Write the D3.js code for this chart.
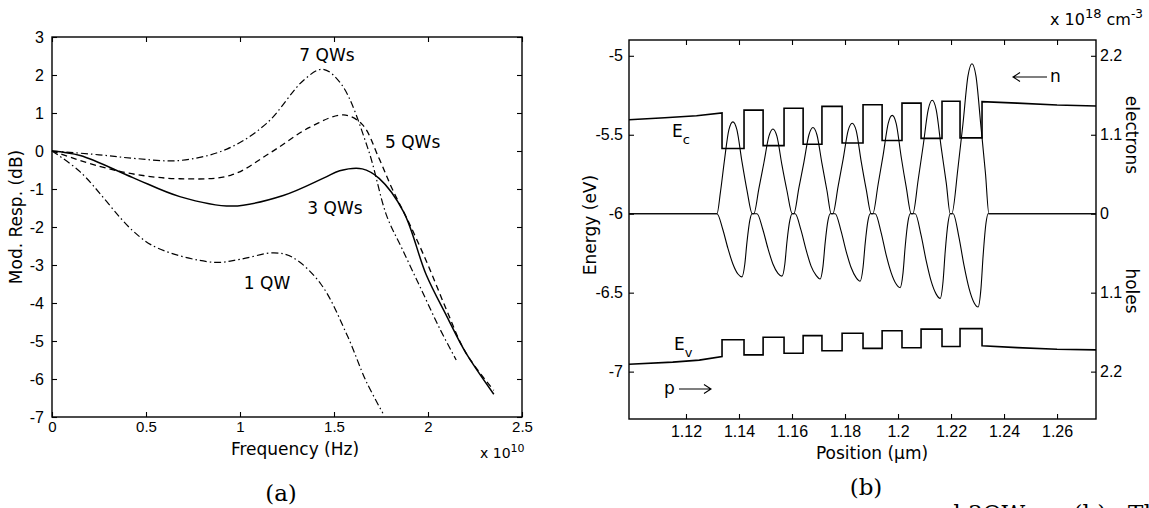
<!DOCTYPE html>
<html>
<head>
<meta charset="utf-8">
<script src="https://cdn.jsdelivr.net/npm/d3@7/dist/d3.min.js"></script>
<style>
  body { margin: 0; background: #fff; }
  svg { display: block; font-family: "DejaVu Sans", sans-serif; }
  .tick text { font-size: 16px; fill: #000; }
  .tick line { stroke: #000; stroke-width: 1.1; }
  .domain { display: none; }
  .lbl { font-size: 17px; fill: #000; }
  .cap { font-family: "DejaVu Serif", serif; font-size: 23px; fill: #000; }
</style>
</head>
<body>
<svg id="chart" width="1149" height="508"></svg>
<script>
// ---- panel (a): modulation response, frequency in units of 1e10 Hz ----
const freqTicks = [0, 0.5, 1, 1.5, 2, 2.5];
const dbTicks = [3, 2, 1, 0, -1, -2, -3, -4, -5, -6, -7];

const qw7 = [[0,0],[0.25,-0.1],[0.45,-0.2],[0.68,-0.25],[0.93,0.05],[1.14,0.72],[1.34,1.87],[1.44,2.15],
  [1.54,1.75],[1.68,0.07],[1.78,-1.7],[1.86,-2.55],[1.96,-3.6],[2.06,-4.65],[2.15,-5.5]];
const qw5 = [[0,0],[0.25,-0.4],[0.45,-0.62],[0.68,-0.73],[0.95,-0.64],[1.16,-0.05],[1.37,0.62],[1.55,0.95],
  [1.65,0.7],[1.74,-0.2],[1.81,-1.0],[1.9,-1.9],[2.0,-3.0],[2.1,-4.2],[2.2,-5.3],[2.35,-6.3]];
const qw3 = [[0,0],[0.15,-0.12],[0.43,-0.7],[0.68,-1.2],[0.96,-1.45],[1.23,-1.17],[1.45,-0.7],[1.53,-0.52],
  [1.65,-0.47],[1.74,-0.72],[1.87,-1.6],[1.99,-3.25],[2.10,-4.35],[2.2,-5.3],[2.35,-6.4]];
const qw1 = [[0,0],[0.15,-0.55],[0.43,-2.1],[0.56,-2.55],[0.86,-2.93],[1.0,-2.85],[1.18,-2.68],[1.28,-2.8],
  [1.43,-3.5],[1.57,-4.85],[1.67,-6.05],[1.76,-6.9]];

// ---- panel (b): band diagram, position in um, energy in eV ----
const posTicks = [1.12, 1.14, 1.16, 1.18, 1.2, 1.22, 1.24, 1.26];
const energyTicks = [-5, -5.5, -6, -6.5, -7];
const densityTicks = [2.2, 1.1, 0, -1.1, -2.2];   // x 1e18 cm^-3, electrons up, holes down

const wellStart = [1.1336, 1.1491, 1.1642, 1.1789, 1.1940, 1.2087, 1.2234];
const wellEnd   = [1.1419, 1.1570, 1.1713, 1.1868, 1.2015, 1.2166, 1.2317];

const ecLeft    = [[1.0985,-5.405],[1.112,-5.392],[1.124,-5.38],[1.1336,-5.362]];
const ecWell    = [-5.587, -5.569, -5.560, -5.552, -5.536, -5.523, -5.520];
const ecBarrier = [-5.344, -5.332, -5.320, -5.310, -5.300, -5.288];
const ecRight   = [[1.2317,-5.29],[1.245,-5.30],[1.26,-5.312],[1.2747,-5.318]];

const evLeft    = [[1.0985,-6.953],[1.115,-6.94],[1.125,-6.927],[1.1336,-6.904]];
const evWell    = [-6.798, -6.782, -6.772, -6.757, -6.741, -6.731, -6.728];
const evBarrier = [-6.894, -6.884, -6.868, -6.853, -6.849, -6.841];
const evRight   = [[1.2317,-6.836],[1.245,-6.848],[1.26,-6.858],[1.2747,-6.862]];

const electrons = [[1.0985,0],
  [1.1317,0],[1.1330,0.30],[1.1345,0.74],[1.1362,1.17],[1.1377,1.28],[1.1392,1.17],[1.1411,0.73],[1.1430,0.33],[1.1450,0],
  [1.1456,0],[1.1475,0.35],[1.1494,0.71],[1.1513,1.08],[1.1528,1.18],[1.1543,1.08],[1.1562,0.68],[1.1581,0.32],[1.1601,0],
  [1.1607,0],[1.1626,0.36],[1.1645,0.72],[1.1664,1.10],[1.1679,1.20],[1.1694,1.10],[1.1713,0.70],[1.1732,0.32],[1.1748,0],
  [1.1754,0],[1.1774,0.38],[1.1793,0.76],[1.1812,1.16],[1.1827,1.26],[1.1842,1.16],[1.1861,0.73],[1.1880,0.34],[1.1899,0],
  [1.1905,0],[1.1925,0.41],[1.1944,0.82],[1.1963,1.26],[1.1978,1.37],[1.1993,1.26],[1.2012,0.79],[1.2031,0.37],[1.2050,0],
  [1.2056,0],[1.2076,0.47],[1.2095,0.95],[1.2114,1.45],[1.2129,1.58],[1.2144,1.45],[1.2163,0.92],[1.2182,0.43],[1.2197,0],
  [1.2203,0],[1.2226,0.63],[1.2245,1.25],[1.2264,1.92],[1.2279,2.09],[1.2294,1.92],[1.2313,1.21],[1.2330,0.56],[1.2343,0],
  [1.2747,0]];

const holes = [[1.0985,0],
  [1.1317,0],[1.1339,-0.22],[1.1358,-0.48],[1.1377,-0.70],[1.1396,-0.84],[1.1411,-0.88],[1.1422,-0.70],[1.1430,-0.40],[1.1441,-0.09],[1.1449,0],
  [1.1468,0],[1.1490,-0.22],[1.1509,-0.48],[1.1528,-0.70],[1.1547,-0.83],[1.1562,-0.87],[1.1573,-0.70],[1.1581,-0.39],[1.1592,-0.09],[1.1600,0],
  [1.1612,0],[1.1634,-0.23],[1.1653,-0.50],[1.1672,-0.73],[1.1691,-0.86],[1.1706,-0.91],[1.1717,-0.73],[1.1725,-0.41],[1.1736,-0.09],[1.1744,0],
  [1.1763,0],[1.1785,-0.24],[1.1804,-0.52],[1.1823,-0.75],[1.1842,-0.89],[1.1857,-0.94],[1.1868,-0.75],[1.1876,-0.42],[1.1887,-0.09],[1.1895,0],
  [1.1914,0],[1.1936,-0.26],[1.1955,-0.57],[1.1974,-0.82],[1.1993,-0.98],[1.2008,-1.03],[1.2019,-0.82],[1.2027,-0.46],[1.2038,-0.10],[1.2046,0],
  [1.2065,0],[1.2087,-0.30],[1.2106,-0.65],[1.2125,-0.94],[1.2144,-1.12],[1.2159,-1.18],[1.2170,-0.94],[1.2178,-0.53],[1.2189,-0.12],[1.2197,0],
  [1.2208,0],[1.2230,-0.33],[1.2249,-0.72],[1.2268,-1.04],[1.2287,-1.24],[1.2302,-1.30],[1.2313,-1.04],[1.2321,-0.59],[1.2332,-0.13],[1.2340,0],
  [1.2747,0]];

const svg = d3.select('#chart');

// step profile of a band edge from the well / barrier lists
const bandPath = (left, well, barrier, right) => {
  const pts = left.slice();
  wellStart.forEach((s, i) => {
    pts.push([s, well[i]], [wellEnd[i], well[i]]);
    if (i < barrier.length) {
      pts.push([wellEnd[i], barrier[i]], [wellStart[i + 1], barrier[i]]);
    }
  });
  return pts.concat(right);
};

const frame = (g, x, y) => {
  g.append('rect')
    .attr('x', x.range()[0]).attr('y', y.range()[1])
    .attr('width', x.range()[1] - x.range()[0])
    .attr('height', y.range()[0] - y.range()[1])
    .attr('fill', 'none').attr('stroke', '#000').attr('stroke-width', 1.4);
};

// ================= panel (a) =================
const xa = d3.scaleLinear().domain([0, 2.5]).range([52, 522]);
const ya = d3.scaleLinear().domain([-7, 3]).range([417, 37]);
const ga = svg.append('g');

ga.append('g').attr('transform', `translate(${xa(0)},0)`)
  .call(d3.axisLeft(ya).tickValues(dbTicks).tickSizeInner(-5).tickSizeOuter(0).tickPadding(8).tickFormat(d => String(d)));
ga.append('g').attr('transform', `translate(${xa(2.5)},0)`)
  .call(d3.axisRight(ya).tickValues(dbTicks).tickSizeInner(-5).tickSizeOuter(0).tickFormat(''));
const bottomA = ga.append('g').attr('transform', `translate(0,${ya(-7)})`)
  .call(d3.axisBottom(xa).tickValues(freqTicks).tickSizeInner(-5).tickSizeOuter(0).tickPadding(4).tickFormat(d => String(d)));
bottomA.selectAll('.tick text').style('font-size', '15px');
ga.append('g').attr('transform', `translate(0,${ya(3)})`)
  .call(d3.axisTop(xa).tickValues(freqTicks).tickSizeInner(-5).tickSizeOuter(0).tickFormat(''));
frame(ga, xa, ya);

const lineA = d3.line().x(d => xa(d[0])).y(d => ya(d[1])).curve(d3.curveCatmullRom.alpha(0.5));
const curvesA = [
  { data: qw7, dash: '7,3,1.5,3', w: 1.2 },
  { data: qw5, dash: '6,4', w: 1.3 },
  { data: qw3, dash: null, w: 1.5 },
  { data: qw1, dash: '7,3,1.5,3', w: 1.2 }
];
ga.selectAll('.resp').data(curvesA).enter().append('path')
  .attr('class', 'resp')
  .attr('d', d => lineA(d.data))
  .attr('fill', 'none').attr('stroke', '#000')
  .attr('stroke-width', d => d.w)
  .attr('stroke-dasharray', d => d.dash);

ga.append('text').attr('class', 'lbl').attr('x', 327).attr('y', 61).attr('text-anchor', 'middle').text('7 QWs');
ga.append('text').attr('class', 'lbl').attr('x', 385).attr('y', 148).text('5 QWs');
ga.append('text').attr('class', 'lbl').attr('x', 335).attr('y', 214).attr('text-anchor', 'middle').text('3 QWs');
ga.append('text').attr('class', 'lbl').attr('x', 267).attr('y', 289).attr('text-anchor', 'middle').text('1 QW');

ga.append('text').attr('class', 'lbl').attr('transform', 'translate(22,217) rotate(-90)')
  .attr('text-anchor', 'middle').text('Mod. Resp. (dB)');
ga.append('text').attr('class', 'lbl').attr('x', 295).attr('y', 455).attr('text-anchor', 'middle').text('Frequency (Hz)');
const xe = ga.append('text').attr('class', 'lbl').attr('x', 480).attr('y', 458).style('font-size', '14px');
xe.append('tspan').text('x 10');
xe.append('tspan').attr('dy', -6).style('font-size', '11px').text('10');
ga.append('text').attr('class', 'cap').attr('x', 281).attr('y', 501).attr('text-anchor', 'middle').text('(a)');

// ================= panel (b) =================
const xb = d3.scaleLinear().domain([1.0985, 1.2747]).range([629, 1096]);
const yb = d3.scaleLinear().domain([-7.3, -4.9]).range([419, 40]);
// densities share the frame: 1.1e18 cm^-3 per 0.5 eV around -6 eV
const yr = d3.scaleLinear().domain([(-7.3 + 6) * 2.2, (-4.9 + 6) * 2.2]).range([419, 40]);
const gb = svg.append('g');

gb.append('g').attr('transform', `translate(${xb.range()[0]},0)`)
  .call(d3.axisLeft(yb).tickValues(energyTicks).tickSizeInner(-5).tickSizeOuter(0).tickPadding(6).tickFormat(d => String(d)));
gb.append('g').attr('transform', `translate(${xb.range()[1]},0)`)
  .call(d3.axisRight(yr).tickValues(densityTicks).tickSizeInner(-5).tickSizeOuter(0).tickPadding(4).tickFormat(d => String(Math.abs(d))));
gb.append('g').attr('transform', `translate(0,${yb.range()[0]})`)
  .call(d3.axisBottom(xb).tickValues(posTicks).tickSizeInner(-5).tickSizeOuter(0).tickPadding(7).tickFormat(d => String(d)));
gb.append('g').attr('transform', `translate(0,${yb.range()[1]})`)
  .call(d3.axisTop(xb).tickValues(posTicks).tickSizeInner(-5).tickSizeOuter(0).tickFormat(''));
frame(gb, xb, yb);

const bandLine = d3.line().x(d => xb(d[0])).y(d => yb(d[1]));
gb.append('path').attr('d', bandLine(bandPath(ecLeft, ecWell, ecBarrier, ecRight)))
  .attr('fill', 'none').attr('stroke', '#000').attr('stroke-width', 1.6);
gb.append('path').attr('d', bandLine(bandPath(evLeft, evWell, evBarrier, evRight)))
  .attr('fill', 'none').attr('stroke', '#000').attr('stroke-width', 1.6);

const densLine = d3.line().x(d => xb(d[0])).y(d => yr(d[1])).curve(d3.curveMonotoneX);
gb.append('path').attr('d', densLine(electrons)).attr('fill', 'none').attr('stroke', '#000').attr('stroke-width', 1.1);
gb.append('path').attr('d', densLine(holes)).attr('fill', 'none').attr('stroke', '#000').attr('stroke-width', 1.1);

// band labels
const ec = gb.append('text').attr('class', 'lbl').attr('x', 672).attr('y', 137).style('font-size', '17px');
ec.append('tspan').text('E');
ec.append('tspan').attr('dy', 7).style('font-size', '13px').text('c');
const ev = gb.append('text').attr('class', 'lbl').attr('x', 674).attr('y', 350).style('font-size', '17px');
ev.append('tspan').text('E');
ev.append('tspan').attr('dy', 7).style('font-size', '13px').text('v');

// carrier arrows
gb.append('text').attr('class', 'lbl').attr('x', 664).attr('y', 394).text('p');
gb.append('path').attr('d', 'M679,389 H711 M704,384.5 L711,389 L704,393.5')
  .attr('fill', 'none').attr('stroke', '#000').attr('stroke-width', 1.1);
gb.append('path').attr('d', 'M1047,77 H1013 M1020,72.5 L1013,77 L1020,81.5')
  .attr('fill', 'none').attr('stroke', '#000').attr('stroke-width', 1.1);
gb.append('text').attr('class', 'lbl').attr('x', 1050).attr('y', 82).text('n');

gb.append('text').attr('class', 'lbl').attr('transform', 'translate(596,225) rotate(-90)')
  .attr('text-anchor', 'middle').text('Energy (eV)');
gb.append('text').attr('class', 'lbl').attr('x', 872).attr('y', 459).attr('text-anchor', 'middle').text('Position (\u00b5m)');
gb.append('text').attr('class', 'lbl').attr('transform', 'translate(1126,135) rotate(90)')
  .attr('text-anchor', 'middle').text('electrons');
gb.append('text').attr('class', 'lbl').attr('transform', 'translate(1126,291) rotate(90)')
  .attr('text-anchor', 'middle').text('holes');

const unit = gb.append('text').attr('class', 'lbl').attr('x', 1050).attr('y', 25).style('font-size', '16px');
unit.append('tspan').text('x 10');
unit.append('tspan').attr('dy', -7).style('font-size', '13px').text('18');
unit.append('tspan').attr('dy', 7).text(' cm');
unit.append('tspan').attr('dy', -7).style('font-size', '12px').text('-3');

gb.append('text').attr('class', 'cap').attr('x', 866).attr('y', 495).attr('text-anchor', 'middle').text('(b)');

// top of the next caption line, cut off by the page edge as in the scan
svg.append('text').attr('class', 'cap').attr('x', 946).attr('y', 521)
  .attr('xml:space', 'preserve').text('d 3QWs.    (b)   Th');
</script>
</body>
</html>
